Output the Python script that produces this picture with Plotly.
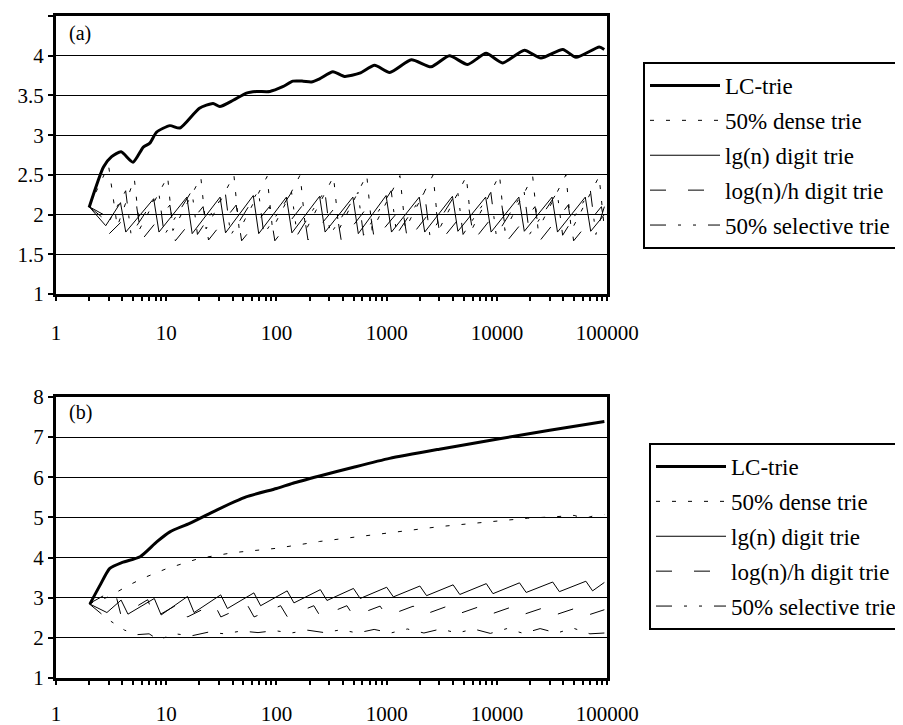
import plotly.graph_objects as go

SERIES = ["LC-trie", "50% dense trie", "lg(n) digit trie", "log(n)/h digit trie", "50% selective trie"]
X_TICKS = [1, 2, 3, 4, 5, 6, 7, 8, 9, 10, 20, 30, 40, 50, 60, 70, 80, 90,
           100, 200, 300, 400, 500, 600, 700, 800, 900, 1000, 2000, 3000, 4000, 5000, 6000, 7000, 8000, 9000,
           10000, 20000, 30000, 40000, 50000, 60000, 70000, 80000, 90000, 100000]
X_LABELED = [1, 10, 100, 1000, 10000, 100000]

# ---------------- panel (a) ----------------
x_lc_a = [2, 2.7, 3.2, 3.9, 5.0, 6.2, 7.1, 8.2, 10.8, 13.3, 20, 26.6, 30.6, 40.5, 53.4, 65.9, 87, 114, 141, 174,
          207, 246, 325, 414, 568, 776, 1063, 1670, 2520, 3700, 5400, 7950, 11200, 17700, 25000, 39500, 52000,
          84500, 93800]
y_lc_a = [2.09, 2.60, 2.73, 2.79, 2.66, 2.85, 2.90, 3.04, 3.12, 3.09, 3.34, 3.40, 3.36, 3.44, 3.53, 3.55, 3.55,
          3.61, 3.68, 3.68, 3.67, 3.71, 3.80, 3.74, 3.78, 3.88, 3.79, 3.95, 3.86, 4.00, 3.89, 4.03, 3.91, 4.07,
          3.97, 4.08, 3.98, 4.11, 4.08]

x_dense_a = [2, 3.0, 3.6, 5.14, 5.76, 10.3, 11.5, 20.6, 23, 41.1, 46, 82.2, 92, 164, 184, 329, 368, 658, 737,
             1316, 1474, 2631, 2947, 5263, 5894, 10525, 11788, 21050, 23576, 42101, 47153, 84201, 94000]
y_dense_a = [2.1, 2.62, 1.85, 2.45, 1.82, 2.48, 1.80, 2.47, 1.82, 2.50, 1.80, 2.48, 1.82, 2.50, 1.80, 2.48, 1.81,
             2.50, 1.80, 2.49, 1.82, 2.50, 1.80, 2.48, 1.81, 2.50, 1.80, 2.48, 1.81, 2.50, 1.80, 2.48, 1.82]

x_lg_a = [2, 2.83, 3.85, 4.3, 7.7, 8.6, 15.4, 17.2, 30.8, 34.5, 61.6, 69, 123, 138, 246, 276, 493, 552, 986, 1104,
          1971, 2208, 3942, 4415, 7885, 8831, 15770, 17662, 31539, 35324, 63078, 70647, 94000]
y_lg_a = [2.1, 1.86, 2.15, 1.78, 2.20, 1.78, 2.22, 1.76, 2.22, 1.77, 2.24, 1.76, 2.22, 1.77, 2.23, 1.78, 2.22,
          1.76, 2.24, 1.78, 2.22, 1.78, 2.23, 1.79, 2.22, 1.78, 2.22, 1.79, 2.22, 1.78, 2.22, 1.79, 2.0]

x_logh_a = [2, 2.7, 3.0, 5.4, 6.0, 10.8, 12.1, 21.6, 24.2, 43.1, 48.3, 86.3, 96.6, 173, 193, 345, 387, 690, 773,
            1381, 1546, 2761, 3093, 5523, 6185, 11045, 12370, 22090, 24740, 44180, 49480, 88360, 94000]
y_logh_a = [2.1, 2.0, 1.75, 2.10, 1.68, 2.12, 1.67, 2.10, 1.68, 2.12, 1.67, 2.10, 1.67, 2.12, 1.68, 2.10, 1.67,
            2.12, 1.68, 2.10, 1.67, 2.12, 1.67, 2.10, 1.68, 2.12, 1.67, 2.10, 1.68, 2.12, 1.67, 2.10, 1.90]

x_sel_a = [2, 3.0, 4.29, 4.8, 8.57, 9.6, 17.1, 19.2, 34.3, 38.4, 68.6, 76.8, 137, 154, 274, 307, 549, 615, 1097,
           1229, 2195, 2458, 4389, 4916, 8779, 9832, 17558, 19665, 35115, 39329, 70230, 78658, 94000]
y_sel_a = [2.1, 1.9, 2.30, 1.75, 2.28, 1.74, 2.30, 1.75, 2.28, 1.74, 2.30, 1.75, 2.28, 1.74, 2.30, 1.75, 2.28,
           1.74, 2.30, 1.75, 2.28, 1.74, 2.30, 1.75, 2.28, 1.74, 2.30, 1.75, 2.28, 1.74, 2.30, 1.75, 2.10]

# ---------------- panel (b) ----------------
x_lc_b = [2.03, 2.5, 3.08, 4, 5.8, 8.2, 10.8, 16.3, 26.6, 53, 100, 141, 246, 500, 1060, 3000, 10500, 30000, 94000]
y_lc_b = [2.84, 3.30, 3.73, 3.88, 4.02, 4.39, 4.64, 4.85, 5.14, 5.51, 5.72, 5.85, 6.03, 6.25, 6.47, 6.70, 6.96,
          7.17, 7.39]

x_dense_b = [2, 3, 4.5, 6.2, 10, 20, 40, 100, 246, 500, 1230, 3000, 8500, 19000, 35000, 50000, 62000, 75000, 94000]
y_dense_b = [2.85, 3.02, 3.30, 3.49, 3.72, 3.98, 4.12, 4.23, 4.40, 4.50, 4.64, 4.77, 4.89, 4.98, 5.02, 5.05, 4.97,
             5.04, 5.07]

x_lg_b = [2, 2.9, 3.9, 4.5, 7.8, 9.0, 15.6, 17.9, 31.2, 35.9, 62.4, 71.8, 125, 144, 250, 287, 499, 574, 998, 1148,
          1997, 2296, 3994, 4593, 7987, 9185, 15974, 18370, 31949, 36741, 63898, 73483, 94000]
y_lg_b = [2.85, 2.63, 2.94, 2.59, 2.98, 2.57, 3.03, 2.63, 3.07, 2.73, 3.12, 2.80, 3.17, 2.87, 3.20, 2.93, 3.23,
          2.98, 3.26, 3.02, 3.29, 3.05, 3.32, 3.08, 3.35, 3.10, 3.37, 3.13, 3.39, 3.15, 3.41, 3.17, 3.38]

x_logh_b = [2, 3.4, 3.9, 6.8, 7.8, 13.6, 15.6, 27.2, 31.3, 54.4, 62.6, 109, 125, 218, 250, 435, 501, 870, 1001,
            1741, 2002, 3482, 4004, 6963, 8008, 13926, 16015, 27853, 32031, 55706, 64062, 94000]
y_logh_b = [2.85, 3.20, 2.55, 2.95, 2.50, 2.88, 2.52, 2.85, 2.52, 2.82, 2.52, 2.80, 2.53, 2.80, 2.53, 2.80, 2.54,
            2.79, 2.54, 2.79, 2.54, 2.78, 2.55, 2.78, 2.55, 2.78, 2.55, 2.77, 2.55, 2.77, 2.55, 2.70]

x_sel_b = [2, 3, 4.2, 5.5, 7, 8.5, 12, 17, 24, 34, 48, 68, 96, 136, 192, 272, 384, 543, 768, 1086, 1536, 2172,
           3072, 4345, 6144, 8689, 12288, 17378, 24576, 34756, 49152, 69511, 94000]
y_sel_b = [2.85, 2.45, 2.19, 2.08, 2.10, 1.95, 2.10, 2.05, 2.14, 2.10, 2.17, 2.13, 2.18, 2.12, 2.19, 2.13, 2.20,
           2.12, 2.21, 2.12, 2.22, 2.12, 2.22, 2.12, 2.22, 2.11, 2.23, 2.11, 2.23, 2.12, 2.24, 2.10, 2.12]

FONT = "Liberation Serif"
STYLES = [
    dict(color="black", width=3, dash="solid"),
    dict(color="black", width=1, dash="4px,12px"),
    dict(color="black", width=1, dash="solid"),
    dict(color="black", width=1, dash="16px,22px"),
    dict(color="black", width=1, dash="16px,12px,3px,12px,3px,12px"),
]

panel_a = [(x_lc_a, y_lc_a), (x_dense_a, y_dense_a), (x_lg_a, y_lg_a), (x_logh_a, y_logh_a), (x_sel_a, y_sel_a)]
panel_b = [(x_lc_b, y_lc_b), (x_dense_b, y_dense_b), (x_lg_b, y_lg_b), (x_logh_b, y_logh_b), (x_sel_b, y_sel_b)]

fig = go.Figure()
for pi, (panel, xa, ya, leg) in enumerate([(panel_a, "x", "y", "legend"), (panel_b, "x2", "y2", "legend2")]):
    for i, (xs, ys) in enumerate(panel):
        line = dict(STYLES[i])
        if i == 0:
            line["shape"] = "spline"
            line["smoothing"] = 0.6
        fig.add_trace(go.Scatter(
            x=xs, y=ys, mode="lines", name=SERIES[i], line=line,
            xaxis=xa, yaxis=ya, legend=leg, legendgroup=f"p{pi}s{i}",
        ))

ticktext = [str(v) if v in X_LABELED else "" for v in X_TICKS]
xcommon = dict(type="log", range=[0, 5], tickvals=X_TICKS, ticktext=ticktext, ticks="outside", ticklen=4,
               tickwidth=2, tickcolor="black", showline=True, linewidth=3, linecolor="black", mirror=True,
               showgrid=False, zeroline=False, tickfont=dict(family=FONT, size=21, color="black"),
               automargin=False)
ycommon = dict(showline=True, linewidth=3, linecolor="black", mirror=True, showgrid=True, gridcolor="black",
               gridwidth=1, ticks="outside", ticklen=5, tickwidth=2, tickcolor="black", zeroline=False,
               tickfont=dict(family=FONT, size=21, color="black"), automargin=False)

legcommon = dict(bgcolor="white", bordercolor="black", borderwidth=2,
                 font=dict(family=FONT, size=23, color="black"), tracegroupgap=2,
                 xanchor="left", yanchor="top", itemwidth=70)

# the page body adds an 8 px margin, so the figure is 895 x 717 and positioned accordingly
fig.update_layout(
    width=895, height=717, margin=dict(l=0, r=0, t=0, b=0),
    paper_bgcolor="white", plot_bgcolor="white",
    xaxis=dict(domain=[0.0536, 0.6704], anchor="y", ticklabelstandoff=14, **xcommon),
    yaxis=dict(domain=[0.6011, 0.9888], anchor="x", range=[1, 4.5], dtick=0.5, tick0=1, **ycommon),
    xaxis2=dict(domain=[0.0536, 0.6704], anchor="y2", ticklabelstandoff=11, **xcommon),
    yaxis2=dict(domain=[0.0656, 0.4575], anchor="x2", range=[1, 8], dtick=1, tick0=1, **ycommon),
    legend=dict(x=0.7095, y=0.9247, **legcommon),
    legend2=dict(x=0.7173, y=0.3933, **legcommon),
    annotations=[
        dict(text="(a)", xref="paper", yref="paper", x=0.0659, y=0.9651, xanchor="left", yanchor="middle",
             showarrow=False, font=dict(family=FONT, size=20, color="black")),
        dict(text="(b)", xref="paper", yref="paper", x=0.0659, y=0.4365, xanchor="left", yanchor="middle",
             showarrow=False, font=dict(family=FONT, size=20, color="black")),
    ],
)

fig.write_html("out.html")
